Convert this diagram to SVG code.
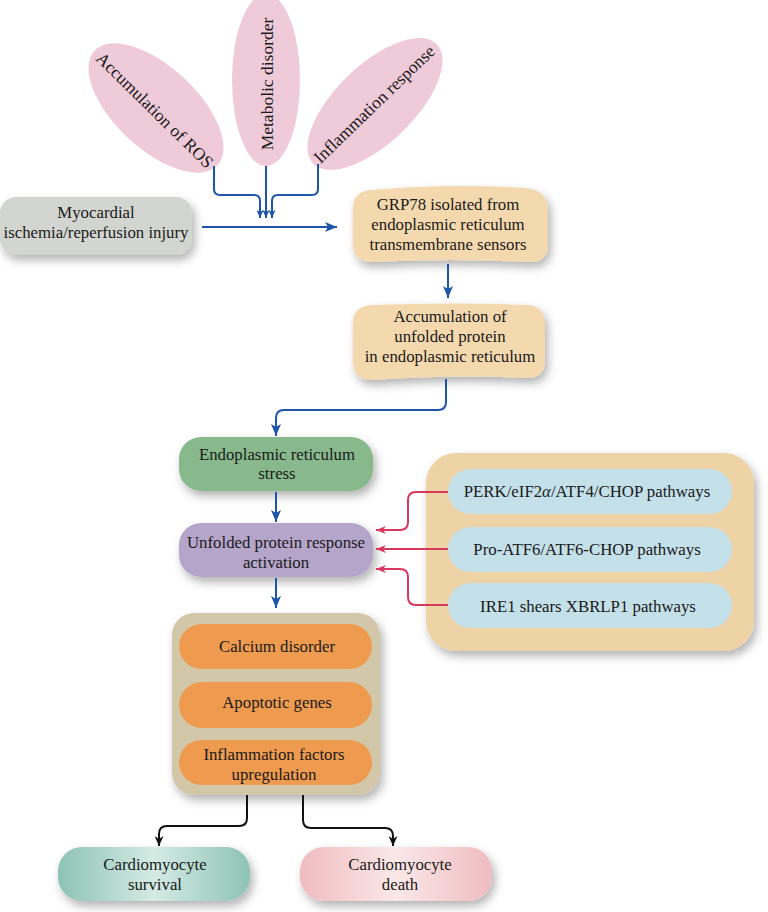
<svg xmlns="http://www.w3.org/2000/svg" width="768" height="912" viewBox="0 0 768 912">
<defs>
<style>
text{font-family:"Liberation Serif","Times New Roman",serif;font-size:16.8px;fill:#1a1a1a;text-anchor:middle}
.et{font-size:17.5px}
.blue{fill:none;stroke:#1f55a8;stroke-width:2}
.red{fill:none;stroke:#d9385e;stroke-width:2}
.blk{fill:none;stroke:#111;stroke-width:2}
.ell{fill:#efcbd9}
</style>
<filter id="sh" x="-20%" y="-20%" width="140%" height="150%">
<feDropShadow dx="3" dy="5" stdDeviation="5" flood-color="#000" flood-opacity="0.3"/>
</filter>
<marker id="ab" markerUnits="userSpaceOnUse" markerWidth="12" markerHeight="10" refX="12" refY="5" orient="auto">
<path d="M0,0 L12,5 L0,10 L3,5 z" fill="#1f55a8"/>
</marker>
<marker id="abs" markerUnits="userSpaceOnUse" markerWidth="8" markerHeight="7" refX="8" refY="3.5" orient="auto">
<path d="M0,0 L8,3.5 L0,7 L2,3.5 z" fill="#1f55a8"/>
</marker>
<marker id="ar" markerUnits="userSpaceOnUse" markerWidth="10" markerHeight="8" refX="10" refY="4" orient="auto">
<path d="M0,0 L10,4 L0,8 L3,4 z" fill="#d9385e"/>
</marker>
<marker id="ak" markerUnits="userSpaceOnUse" markerWidth="10" markerHeight="9" refX="10" refY="4.5" orient="auto">
<path d="M0,0 L10,4.5 L0,9 L3,4.5 z" fill="#111"/>
</marker>
<linearGradient id="gs" x1="0" y1="0" x2="1" y2="0">
<stop offset="0" stop-color="#8ec3b5"/><stop offset="0.5" stop-color="#d4ebe4"/><stop offset="1" stop-color="#8ec3b5"/>
</linearGradient>
<linearGradient id="gd" x1="0" y1="0" x2="1" y2="0">
<stop offset="0" stop-color="#f0bcc0"/><stop offset="0.5" stop-color="#fbe8e8"/><stop offset="1" stop-color="#f0bcc0"/>
</linearGradient>
</defs>
<rect width="768" height="912" fill="#fff"/>

<g id="ros">
<ellipse class="ell" cx="156" cy="108" rx="84" ry="41" transform="rotate(43 156 108)"/>
<text class="et" transform="translate(155,110) rotate(44.5)" dy="0.35em">Accumulation of ROS</text>
</g>
<g id="metabolic">
<ellipse class="ell" cx="266" cy="80" rx="34" ry="86"/>
<text class="et" transform="translate(267,84) rotate(-90)" dy="0.35em">Metabolic disorder</text>
</g>
<g id="inflammation">
<ellipse class="ell" cx="375" cy="104" rx="86" ry="39" transform="rotate(-44 375 104)"/>
<text class="et" transform="translate(374,104) rotate(-44)" dy="0.35em">Inflammation response</text>
</g>

<g id="myocardial">
<rect x="0" y="197" width="192" height="58" rx="16" fill="#d3d6d0" filter="url(#sh)"/>
<text x="96" y="218">Myocardial</text>
<text x="96" y="238">ischemia/reperfusion injury</text>
</g>

<g id="grp78">
<path d="M372,190 Q450,183 525,188 Q548,190 548,210 V244 Q548,262 530,262 Q450,258 372,262 Q353,262 353,244 V208 Q353,191 372,190 Z" fill="#f4d9af" filter="url(#sh)"/>
<text x="448" y="210">GRP78 isolated from</text>
<text x="448" y="230">endoplasmic reticulum</text>
<text x="448" y="250">transmembrane sensors</text>
</g>

<g id="accumulation">
<path d="M372,305 Q450,302 527,305 Q545,306 545,324 V360 Q545,378 527,378 Q450,374 372,380 Q353,380 353,362 V323 Q353,306 372,305 Z" fill="#f4d9af" filter="url(#sh)"/>
<text x="450" y="322">Accumulation of</text>
<text x="450" y="342">unfolded protein</text>
<text x="450" y="362">in endoplasmic reticulum</text>
</g>

<g id="er-stress">
<rect x="179" y="437" width="194" height="54" rx="22" fill="#88b98c" filter="url(#sh)"/>
<text x="277" y="460">Endoplasmic reticulum</text>
<text x="277" y="479">stress</text>
</g>

<g id="upr">
<rect x="179" y="523" width="194" height="54" rx="22" fill="#b5a5cb" filter="url(#sh)"/>
<text x="276" y="548">Unfolded protein response</text>
<text x="276" y="568">activation</text>
</g>

<g id="outcomes">
<rect x="172" y="613" width="208" height="182" rx="22" fill="#d3c7a9" filter="url(#sh)"/>
<g id="calcium">
<rect x="179" y="624" width="193" height="45" rx="22.5" fill="#ef9b4f"/>
<text x="277" y="652">Calcium disorder</text>
</g>
<g id="apoptotic">
<rect x="179" y="682" width="193" height="46" rx="23" fill="#ef9b4f"/>
<text x="277" y="708">Apoptotic genes</text>
</g>
<g id="inflam-factors">
<rect x="179" y="740" width="193" height="45" rx="22.5" fill="#ef9b4f"/>
<text x="274" y="760">Inflammation factors</text>
<text x="274" y="780">upregulation</text>
</g>
</g>

<g id="pathways">
<rect x="426" y="453" width="328" height="198" rx="30" fill="#eed3a7" filter="url(#sh)"/>
<g id="perk">
<rect x="448" y="469" width="284" height="45" rx="22.5" fill="#c4e0e9"/>
<text x="587" y="497">PERK/eIF2<tspan font-style="italic">α</tspan>/ATF4/CHOP pathways</text>
</g>
<g id="atf6">
<rect x="448" y="527" width="284" height="45" rx="22.5" fill="#c4e0e9"/>
<text x="587" y="555">Pro-ATF6/ATF6-CHOP pathways</text>
</g>
<g id="ire1">
<rect x="448" y="583" width="284" height="45" rx="22.5" fill="#c4e0e9"/>
<text x="588" y="612">IRE1 shears XBRLP1 pathways</text>
</g>
</g>

<g id="survival">
<rect x="58" y="847" width="192" height="54" rx="24" fill="url(#gs)" filter="url(#sh)"/>
<text x="155" y="870">Cardiomyocyte</text>
<text x="155" y="890">survival</text>
</g>
<g id="death">
<rect x="300" y="847" width="192" height="54" rx="24" fill="url(#gd)" filter="url(#sh)"/>
<text x="400" y="870">Cardiomyocyte</text>
<text x="400" y="890">death</text>
</g>

<g id="connectors">
<path class="blue" d="M214,166 V189 Q214,195 220,195 H254 Q260,195 260,201 V218" marker-end="url(#abs)"/>
<path class="blue" d="M266,166 V218" marker-end="url(#abs)"/>
<path class="blue" d="M318,164 V189 Q318,195 312,195 H278 Q272,195 272,201 V218" marker-end="url(#abs)"/>
<path class="blue" d="M202,227 H337" marker-end="url(#ab)"/>
<path class="blue" d="M448,264 V298" marker-end="url(#ab)"/>
<path class="blue" d="M446,379 V402 Q446,410 438,410 H284 Q276,410 276,418 V436" marker-end="url(#ab)"/>
<path class="blue" d="M276,492 V522" marker-end="url(#ab)"/>
<path class="blue" d="M276,578 V608" marker-end="url(#ab)"/>
<path class="red" d="M448,492 H416 Q408,492 408,500 V522 Q408,530 400,530 H376" marker-end="url(#ar)"/>
<path class="red" d="M448,549 H376" marker-end="url(#ar)"/>
<path class="red" d="M448,605 H416 Q408,605 408,597 V577 Q408,569 400,569 H376" marker-end="url(#ar)"/>
<path class="blk" d="M247,795 V818 Q247,826 239,826 H167 Q159,826 159,834 V846" marker-end="url(#ak)"/>
<path class="blk" d="M303,795 V820 Q303,828 311,828 H385 Q393,828 393,836 V846" marker-end="url(#ak)"/>
</g>
</svg>
